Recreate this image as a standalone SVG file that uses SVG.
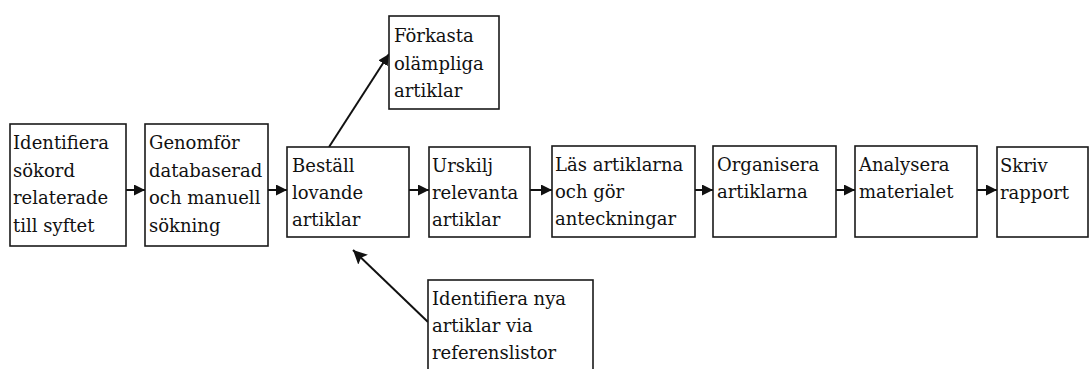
<svg xmlns="http://www.w3.org/2000/svg" width="1090" height="369" viewBox="0 0 1090 369">
<style>
.box{fill:#fff;stroke:#1a1a1a;stroke-width:1.6}
.t{font-family:"DejaVu Serif","Liberation Serif",serif;font-size:18px;fill:#111}
.c{stroke:#111;stroke-width:2;fill:none}
</style>
<defs>
<marker id="ah" viewBox="0 0 10 10" refX="10" refY="5" markerWidth="5.5" markerHeight="5.5" orient="auto" markerUnits="strokeWidth">
<path d="M0,0 L10,5 L0,10 Z" fill="#111"/>
</marker>
<marker id="ahL" viewBox="0 0 10 10" refX="10" refY="5" markerWidth="7" markerHeight="7" orient="auto" markerUnits="strokeWidth">
<path d="M0,0 L10,5 L0,10 L2,5 Z" fill="#111"/>
</marker>
</defs>
<rect width="1090" height="369" fill="#fff"/>
<g id="connectors">
<line class="c" x1="126" y1="190" x2="145" y2="190" marker-end="url(#ah)"/>
<line class="c" x1="268" y1="190" x2="287" y2="190" marker-end="url(#ah)"/>
<line class="c" x1="409" y1="190" x2="429" y2="190" marker-end="url(#ah)"/>
<line class="c" x1="530" y1="190" x2="552" y2="190" marker-end="url(#ah)"/>
<line class="c" x1="695" y1="190" x2="713" y2="190" marker-end="url(#ah)"/>
<line class="c" x1="836" y1="190" x2="855" y2="190" marker-end="url(#ah)"/>
<line class="c" x1="977" y1="190" x2="997" y2="190" marker-end="url(#ah)"/>
<line class="c" x1="329" y1="147" x2="389" y2="54" marker-end="url(#ah)"/>
<line class="c" x1="428" y1="322" x2="353" y2="250" marker-end="url(#ahL)"/>
</g>
<g id="n1"><rect class="box" x="10" y="124" width="116" height="122"/>
<text class="t" x="13" y="149">Identifiera</text><text class="t" x="13" y="176.5">sökord</text><text class="t" x="13" y="204">relaterade</text><text class="t" x="13" y="231.5">till syftet</text></g>
<g id="n2"><rect class="box" x="145" y="124" width="123" height="122"/>
<text class="t" x="149" y="149">Genomför</text><text class="t" x="149" y="176.5">databaserad</text><text class="t" x="149" y="204">och manuell</text><text class="t" x="149" y="231.5">sökning</text></g>
<g id="n3"><rect class="box" x="287" y="147" width="122" height="90"/>
<text class="t" x="292" y="172">Beställ</text><text class="t" x="292" y="199">lovande</text><text class="t" x="292" y="226">artiklar</text></g>
<g id="n4"><rect class="box" x="389" y="16" width="110" height="93"/>
<text class="t" x="394" y="42">Förkasta</text><text class="t" x="394" y="69.5">olämpliga</text><text class="t" x="394" y="97">artiklar</text></g>
<g id="n5"><rect class="box" x="429" y="147" width="101" height="90"/>
<text class="t" x="432" y="172">Urskilj</text><text class="t" x="432" y="199">relevanta</text><text class="t" x="432" y="226">artiklar</text></g>
<g id="n6"><rect class="box" x="552" y="146" width="143" height="91"/>
<text class="t" x="555" y="171">Läs artiklarna</text><text class="t" x="555" y="198">och gör</text><text class="t" x="555" y="225">anteckningar</text></g>
<g id="n7"><rect class="box" x="713" y="146" width="123" height="91"/>
<text class="t" x="717" y="171">Organisera</text><text class="t" x="717" y="198">artiklarna</text></g>
<g id="n8"><rect class="box" x="855" y="146" width="122" height="91"/>
<text class="t" x="859" y="171">Analysera</text><text class="t" x="859" y="198">materialet</text></g>
<g id="n9"><rect class="box" x="997" y="147" width="91" height="90"/>
<text class="t" x="1000" y="172">Skriv</text><text class="t" x="1000" y="199">rapport</text></g>
<g id="n10"><rect class="box" x="428" y="280" width="165" height="100"/>
<text class="t" x="432" y="305">Identifiera nya</text><text class="t" x="432" y="332">artiklar via</text><text class="t" x="432" y="359">referenslistor</text></g>
</svg>
